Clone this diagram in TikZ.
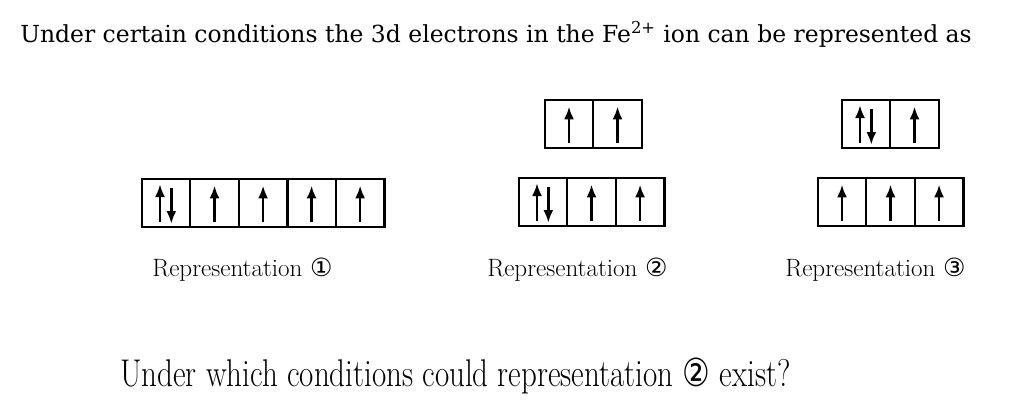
\documentclass[tikz,border=0pt]{standalone}
\usepackage{fontspec}
\usepackage{graphicx}
\newfontfamily\introfont{DejaVu Serif}
\newfontfamily\circfont{DejaVu Sans}
\usetikzlibrary{arrows.meta, positioning}

\begin{document}
\begin{tikzpicture}[x=0.75pt,y=-0.75pt,
    cell/.style={draw,line width=1.8pt,minimum width=36.4pt,
      minimum height=36pt,inner sep=0pt,outer sep=0pt},
    spin/.style={line width=1.8pt,-{Latex[length=9.5pt,width=7.5pt]}},
    txt/.style={inner sep=0pt,anchor=base west,
      font=\fontsize{18.8}{22}\selectfont}]
  \useasboundingbox (0,0) rectangle (1018,408);
  \node[txt,font=\introfont\fontsize{17.6}{20}\selectfont] (intro) at (20,42)
    {Under certain conditions the 3d electrons in the Fe\textsuperscript{2+} ion can be represented as};
  % representation 1
  \node[cell] (a1) at (166,203) {};
  \node[cell,right=0pt of a1] (a2) {};
  \node[cell,right=0pt of a2] (a3) {};
  \node[cell,right=0pt of a3] (a4) {};
  \node[cell,right=0pt of a4] (a5) {};
  \draw[spin]([xshift=-4.5pt,yshift=3.5pt]a1.south)--([xshift=-4.5pt,yshift=-4pt]a1.north);
  \draw[spin]([xshift=4pt,yshift=-7pt]a1.north)--([xshift=4pt,yshift=2.5pt]a1.south);
  \draw[spin]([yshift=4pt]a2.south)--([yshift=-5pt]a2.north);
  \draw[spin]([yshift=4pt]a3.south)--([yshift=-5pt]a3.north);
  \draw[spin]([yshift=4pt]a4.south)--([yshift=-5pt]a4.north);
  \draw[spin]([yshift=4pt]a5.south)--([yshift=-5pt]a5.north);
  \node[txt] (rep1) at (152,276) {Representation {\circfont ①}};
  % representation 2
  \node[cell] (b1) at (569,124) {};
  \node[cell,right=0pt of b1] (b2) {};
  \node[cell] (c1) at (543,202) {};
  \node[cell,right=0pt of c1] (c2) {};
  \node[cell,right=0pt of c2] (c3) {};
  \draw[spin]([yshift=4pt]b1.south)--([yshift=-5pt]b1.north);
  \draw[spin]([yshift=4pt]b2.south)--([yshift=-5pt]b2.north);
  \draw[spin]([xshift=-4.5pt,yshift=3.5pt]c1.south)--([xshift=-4.5pt,yshift=-4pt]c1.north);
  \draw[spin]([xshift=4pt,yshift=-7pt]c1.north)--([xshift=4pt,yshift=2.5pt]c1.south);
  \draw[spin]([yshift=4pt]c2.south)--([yshift=-5pt]c2.north);
  \draw[spin]([yshift=4pt]c3.south)--([yshift=-5pt]c3.north);
  \node[txt] (rep2) at (487,276) {Representation {\circfont ②}};
  % representation 3
  \node[cell] (d1) at (866,124) {};
  \node[cell,right=0pt of d1] (d2) {};
  \node[cell] (e1) at (842,202) {};
  \node[cell,right=0pt of e1] (e2) {};
  \node[cell,right=0pt of e2] (e3) {};
  \draw[spin]([xshift=-4.5pt,yshift=3.5pt]d1.south)--([xshift=-4.5pt,yshift=-4pt]d1.north);
  \draw[spin]([xshift=4pt,yshift=-7pt]d1.north)--([xshift=4pt,yshift=2.5pt]d1.south);
  \draw[spin]([yshift=4pt]d2.south)--([yshift=-5pt]d2.north);
  \draw[spin]([yshift=4pt]e1.south)--([yshift=-5pt]e1.north);
  \draw[spin]([yshift=4pt]e2.south)--([yshift=-5pt]e2.north);
  \draw[spin]([yshift=4pt]e3.south)--([yshift=-5pt]e3.north);
  \node[txt] (rep3) at (785,276) {Representation {\circfont ③}};
  \node[txt,font=\fontsize{29}{32}\selectfont] (question) at (120,386)
    {\scalebox{0.8}[1]{Under which conditions could representation {\circfont ②} exist?}};
\end{tikzpicture}
\end{document}
